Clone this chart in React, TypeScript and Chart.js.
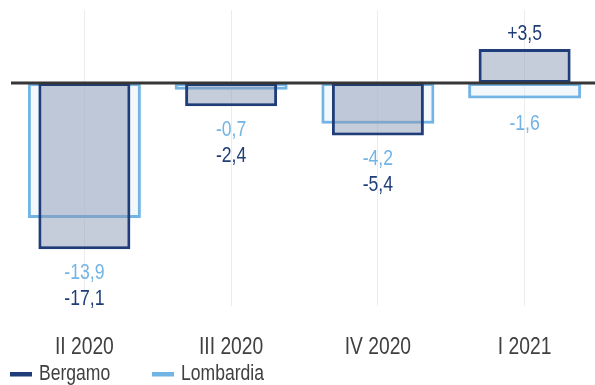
import React, { useEffect, useRef } from "react";
import { Chart, registerables } from "chart.js";

Chart.register(...registerables);

const categories = ["II 2020", "III 2020", "IV 2020", "I 2021"];
const bergamo = [-17.1, -2.4, -5.4, 3.5];
const lombardia = [-13.9, -0.7, -4.2, -1.6];
const seriesNames = ["Bergamo", "Lombardia"];

const FONT = "'Liberation Sans', Arial, sans-serif";
const SQUEEZE = 0.82;
const NAVY = "#1f3d78";
const LIGHT = "#72b4e4";
const TEXT = "#404040";

const fmt = (v: number) => (v > 0 ? "+" : "") + v.toFixed(1).replace(".", ",");

function narrowText(ctx: CanvasRenderingContext2D, text: string, x: number, y: number, sx = SQUEEZE) {
  ctx.save();
  ctx.translate(x, y);
  ctx.scale(sx, 1);
  ctx.fillText(text, 0, 0);
  ctx.restore();
}

const overlayPlugin = {
  id: "overlay",
  afterDatasetsDraw(chart: any) {
    const { ctx, chartArea, scales } = chart;
    const x = scales.x;
    const y = scales.y;
    ctx.save();
    // zero line
    const y0 = y.getPixelForValue(0);
    ctx.strokeStyle = "#363636";
    ctx.lineWidth = 3;
    ctx.beginPath();
    ctx.moveTo(chartArea.left, y0);
    ctx.lineTo(chartArea.right, y0);
    ctx.stroke();

    // value labels
    ctx.font = `21.5px ${FONT}`;
    ctx.textAlign = "center";
    ctx.textBaseline = "alphabetic";
    categories.forEach((_, i) => {
      const cx = x.getPixelForValue(i);
      const b = bergamo[i];
      const l = lombardia[i];
      if (b <= 0 && l <= 0) {
        const bottom = y.getPixelForValue(Math.min(b, l));
        ctx.fillStyle = LIGHT;
        narrowText(ctx, fmt(l), cx, bottom + 30);
        ctx.fillStyle = NAVY;
        narrowText(ctx, fmt(b), cx, bottom + 56);
      } else {
        const put = (v: number, color: string) => {
          ctx.fillStyle = color;
          if (v > 0) narrowText(ctx, fmt(v), cx, y.getPixelForValue(v) - 9);
          else narrowText(ctx, fmt(v), cx, y.getPixelForValue(v) + 31);
        };
        put(b, NAVY);
        put(l, LIGHT);
      }
    });
    ctx.restore();
  },
  afterDraw(chart: any) {
    const { ctx, chartArea, scales } = chart;
    const x = scales.x;
    ctx.save();
    // category labels (condensed)
    ctx.font = `23.5px ${FONT}`;
    ctx.textAlign = "center";
    ctx.textBaseline = "alphabetic";
    ctx.fillStyle = TEXT;
    categories.forEach((c, i) => {
      narrowText(ctx, c, x.getPixelForTick(i), chartArea.bottom + 48);
    });
    // legend
    ctx.font = `22.5px ${FONT}`;
    ctx.textAlign = "left";
    const items = [
      { x: 10, color: NAVY, text: seriesNames[0] },
      { x: 152, color: LIGHT, text: seriesNames[1] },
    ];
    items.forEach((it) => {
      ctx.fillStyle = it.color;
      ctx.fillRect(it.x, 372, 22, 4.5);
      ctx.fillStyle = TEXT;
      narrowText(ctx, it.text, it.x + 29, 380, 0.78);
    });
    ctx.restore();
  },
};

export default function App() {
  const ref = useRef<HTMLCanvasElement>(null);
  useEffect(() => {
    document.body.style.margin = "0";
    const canvas = ref.current!;
    const chart = new Chart(canvas, {
      type: "bar",
      data: {
        labels: categories,
        datasets: [
          {
            label: seriesNames[0],
            data: bergamo,
            backgroundColor: "rgba(139,153,181,0.5)",
            borderColor: NAVY,
            borderWidth: 3,
            borderSkipped: false,
            grouped: false,
            barPercentage: 0.627,
            categoryPercentage: 1,
          } as any,
          {
            label: seriesNames[1],
            data: lombardia,
            backgroundColor: "rgba(225,238,250,0.4)",
            borderColor: LIGHT,
            borderWidth: 3,
            borderSkipped: false,
            grouped: false,
            barPercentage: 0.77,
            categoryPercentage: 1,
          } as any,
        ],
      },
      options: {
        responsive: false,
        animation: false,
        devicePixelRatio: 1,
        layout: { padding: { left: 11, right: 0, top: 10, bottom: 15 } },
        plugins: { legend: { display: false }, tooltip: { enabled: false } },
        scales: {
          x: {
            grid: { offset: false, color: "#ececec", lineWidth: 1, drawTicks: false },
            border: { display: false },
            ticks: { padding: 25.4, color: "rgba(0,0,0,0)", font: { family: FONT, size: 23.5 } },
          },
          y: { display: false, min: -22.94, max: 7.51 },
        },
      },
      plugins: [overlayPlugin],
    });
    return () => chart.destroy();
  }, []);
  return (
    <div
      style={{
        position: "fixed",
        left: 0,
        top: 0,
        width: 595,
        height: 385,
        overflow: "hidden",
        background: "#fff",
      }}
    >
      <canvas ref={ref} width={598} height={400} style={{ display: "block" }} />
    </div>
  );
}
